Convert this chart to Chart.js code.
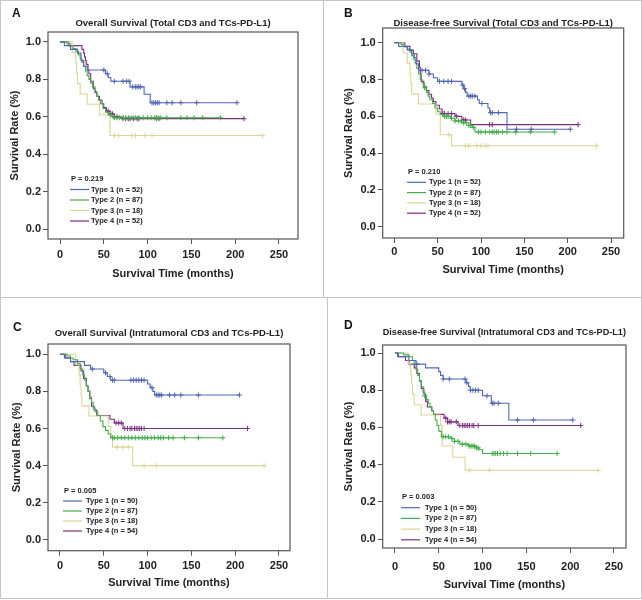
<!DOCTYPE html>
<html>
<head>
<meta charset="utf-8">
<script src="https://cdn.jsdelivr.net/npm/chart.js@4.4.1/dist/chart.umd.min.js"></script>
<style>
  body { margin: 0; background: #fff; }
  #wrap { position: relative; width: 642px; height: 600px; overflow: hidden; }
  #wrap canvas { position: absolute; }
  .rule { position: absolute; background: #c6c6c6; }
</style>
</head>
<body>
<div id="wrap">
  <div class="rule" style="left:0;top:0;width:1px;height:599px"></div>
  <div class="rule" style="left:641px;top:0;width:1px;height:599px"></div>
  <div class="rule" style="left:0;top:0;width:642px;height:1px"></div>
  <div class="rule" style="left:0;top:598px;width:642px;height:1px"></div>
  <div class="rule" style="left:0;top:297px;width:642px;height:1px"></div>
  <div class="rule" style="left:323px;top:0;width:1px;height:297px"></div>
  <div class="rule" style="left:327px;top:298px;width:1px;height:300px"></div>
  <canvas id="panelA" width="321" height="297" style="left:0;top:0"></canvas>
  <canvas id="panelB" width="321" height="297" style="left:321px;top:0"></canvas>
  <canvas id="panelC" width="321" height="297" style="left:0;top:300px"></canvas>
  <canvas id="panelD" width="321" height="297" style="left:321px;top:300px"></canvas>
</div>
<script>
/* global document, Chart */

// Kaplan-Meier curves: [months, survival after the drop]
// and the censoring times (the little + marks)

// A: Overall survival, total CD3 and TCs-PD-L1
const aType1Drops = [[5,0.98],[12,0.96],[20,0.94],[24,0.90],[27,0.87],[31,0.85],[52,0.83],[55,0.81],[58,0.79],[80,0.76],[96,0.72],[103,0.675]];
const aType1Censor = [50,54,62,72,76,79,83,86,88,90,92,105,107,109,111,113,122,128,138,156,202];
const aType2Drops = [[8,0.99],[12,0.977],[15,0.965],[18,0.95],[21,0.93],[23,0.91],[25,0.89],[27,0.87],[29,0.845],[31,0.82],[33,0.80],[35,0.78],[37,0.76],[40,0.735],[42,0.71],[44,0.69],[46,0.67],[49,0.645],[52,0.625],[55,0.61],[60,0.595]];
const aType2Censor = [58,62,65,68,72,75,78,82,86,90,95,100,104,108,110,112,115,122,138,145,153,163,183];
const aType3Drops = [[14,0.944],[18,0.889],[19,0.833],[20,0.778],[23,0.722],[31,0.667],[45,0.611],[57,0.5]];
const aType3Censor = [62,67,82,86,97,105,231];
const aType4Drops = [[10,0.98],[25,0.96],[27,0.94],[28,0.92],[29,0.90],[30,0.88],[32,0.85],[33,0.83],[35,0.79],[38,0.75],[40,0.73],[42,0.71],[45,0.69],[48,0.67],[50,0.65],[53,0.63],[57,0.615],[62,0.60],[70,0.59]];
const aType4Censor = [55,58,60,62,65,72,75,78,80,84,88,90,110,113,210];

// B: Disease-free survival, total CD3 and TCs-PD-L1
const bType1Drops = [[5,0.98],[15,0.96],[20,0.94],[23,0.92],[25,0.885],[28,0.85],[40,0.83],[45,0.81],[50,0.79],[78,0.77],[80,0.75],[82,0.73],[84,0.71],[96,0.69],[98,0.67],[108,0.645],[110,0.62],[130,0.53]];
const bType1Censor = [32,36,40,52,57,62,66,79,81,86,88,90,93,101,111,113,120,141,158,203];
const bType2Drops = [[8,0.99],[12,0.977],[15,0.965],[18,0.95],[20,0.93],[22,0.91],[24,0.89],[26,0.86],[28,0.83],[30,0.80],[32,0.78],[35,0.755],[37,0.73],[39,0.71],[41,0.69],[44,0.67],[47,0.645],[50,0.625],[53,0.61],[56,0.60],[65,0.59],[70,0.575],[78,0.565],[86,0.55],[90,0.54],[93,0.515]];
const bType2Censor = [35,58,60,62,66,70,74,77,80,83,86,88,91,97,100,105,110,113,115,118,120,125,130,140,157,185];
const bType3Drops = [[10,0.944],[15,0.889],[18,0.833],[19,0.778],[20,0.722],[28,0.667],[48,0.611],[53,0.5],[66,0.44]];
const bType3Censor = [63,82,86,95,100,105,108,233];
const bType4Drops = [[12,0.98],[18,0.96],[22,0.94],[26,0.90],[29,0.865],[30,0.83],[31,0.79],[34,0.76],[37,0.74],[40,0.72],[43,0.70],[45,0.68],[48,0.66],[52,0.64],[55,0.615],[70,0.60],[78,0.58],[88,0.555]];
const bType4Censor = [56,58,62,66,72,80,82,110,113,212];

// C: Overall survival, intratumoral CD3 and TCs-PD-L1
const cType1Drops = [[5,0.98],[12,0.96],[28,0.94],[35,0.92],[50,0.90],[54,0.88],[58,0.86],[100,0.84],[103,0.82],[106,0.80],[108,0.78]];
const cType1Censor = [37,52,57,60,62,81,84,87,90,93,96,105,110,112,114,116,125,131,138,158,205];
const cType2Drops = [[8,0.99],[12,0.98],[15,0.97],[20,0.95],[23,0.92],[26,0.89],[28,0.86],[30,0.83],[32,0.80],[34,0.77],[36,0.74],[38,0.71],[40,0.69],[43,0.67],[46,0.64],[49,0.61],[52,0.59],[55,0.57],[58,0.55]];
const cType2Censor = [60,62,66,70,74,78,82,86,90,94,97,100,104,108,112,115,118,124,129,142,158,186];
const cType3Drops = [[18,0.944],[22,0.889],[23,0.833],[24,0.778],[25,0.722],[33,0.667],[55,0.611],[58,0.556],[60,0.5],[83,0.40]];
const cType3Censor = [65,72,78,96,110,233];
const cType4Drops = [[6,0.98],[12,0.96],[16,0.94],[24,0.91],[27,0.87],[30,0.83],[32,0.80],[34,0.76],[36,0.72],[39,0.70],[42,0.67],[57,0.65],[62,0.63],[72,0.60]];
const cType4Censor = [64,67,70,74,77,80,82,85,87,89,91,93,96,214];

// D: Disease-free survival, intratumoral CD3 and TCs-PD-L1
const dType1Drops = [[3,0.98],[16,0.96],[24,0.94],[35,0.92],[50,0.90],[52,0.88],[55,0.86],[81,0.84],[84,0.82],[86,0.80],[100,0.77],[110,0.73],[130,0.64]];
const dType1Censor = [25,55,62,80,82,86,89,92,95,105,111,113,118,140,158,203];
const dType2Drops = [[10,0.99],[16,0.98],[20,0.96],[22,0.94],[24,0.91],[26,0.88],[28,0.85],[30,0.82],[32,0.79],[34,0.77],[36,0.75],[38,0.73],[40,0.71],[42,0.69],[44,0.67],[46,0.64],[48,0.61],[50,0.58],[53,0.55],[64,0.54],[68,0.525],[74,0.51],[84,0.50],[93,0.49],[96,0.48],[100,0.46]];
const dType2Censor = [34,55,58,61,65,68,72,77,81,85,87,89,91,93,95,111,113,115,117,120,124,128,140,155,185];
const dType3Drops = [[15,0.944],[18,0.889],[19,0.833],[20,0.778],[22,0.722],[30,0.667],[52,0.611],[54,0.5],[66,0.44],[80,0.37]];
const dType3Censor = [85,108,232];
const dType4Drops = [[4,0.98],[12,0.96],[16,0.94],[22,0.92],[25,0.89],[28,0.85],[30,0.81],[33,0.78],[35,0.74],[37,0.71],[42,0.69],[44,0.67],[56,0.65],[60,0.63],[72,0.61]];
const dType4Censor = [58,60,62,64,70,74,77,79,81,83,85,88,90,95,212];

// Legend texts
const totalLabels = ["Type 1 (n = 52)", "Type 2 (n = 87)", "Type 3 (n = 18)", "Type 4 (n = 52)"];
const intraLabels = ["Type 1 (n = 50)", "Type 2 (n = 87)", "Type 3 (n = 18)", "Type 4 (n = 54)"];
const pValues = ["P = 0.219", "P = 0.210", "P = 0.005", "P = 0.003"];

// Axis ticks
const xTickStep = 50;
const yTickStep = 0.2;

Chart.defaults.font.family = "'Liberation Sans', Arial, sans-serif";
Chart.defaults.color = "#222";

const typeColors = ["#5066b2", "#43ad4b", "#ddd497", "#7d2f7f"];
const boxColor = "#555";
const bold11 = {size: 11, weight: "bold"};

// Turn drops + censor times into step-curve points
function kmPoints(drops, censor) {
  const level = t => {
    let s = 1;
    drops.forEach(([dt, ds]) => { if (dt <= t) s = ds; });
    return s;
  };
  const pts = [{x: 0, y: 1, c: false, k: 0}];
  drops.forEach(([t, s]) => pts.push({x: t, y: s, c: false, k: 0}));
  censor.forEach(t => pts.push({x: t, y: level(t), c: true, k: 1}));
  pts.sort((a, b) => a.x - b.x || a.k - b.k);
  return pts;
}

// Frame round the plot area
const frameBox = {
  id: "frameBox",
  afterDraw(chart) {
    const {ctx, chartArea: a} = chart;
    ctx.save();
    ctx.strokeStyle = boxColor;
    ctx.lineWidth = 1.2;
    ctx.strokeRect(a.left, a.top, a.right - a.left, a.bottom - a.top);
    ctx.restore();
  }
};

// Panel letter and the in-plot legend
const panelDecor = {
  id: "panelDecor",
  afterDraw(chart, args, o) {
    const {ctx} = chart;
    ctx.save();
    ctx.fillStyle = "#111";
    ctx.textBaseline = "middle";
    ctx.font = "bold 12px 'Liberation Sans', Arial, sans-serif";
    ctx.fillText(o.letter, o.letterX, o.letterY);

    ctx.font = "bold 7.5px 'Liberation Sans', Arial, sans-serif";
    ctx.fillStyle = "#222";
    ctx.fillText(o.pText, o.x + 1, o.y);
    chart.data.datasets.forEach((ds, i) => {
      const y = o.y + o.rowGap * (i + 1);
      ctx.strokeStyle = ds.borderColor;
      ctx.lineWidth = 1.2;
      ctx.beginPath();
      ctx.moveTo(o.x, y);
      ctx.lineTo(o.x + 19, y);
      ctx.stroke();
      ctx.fillText(ds.label, o.x + o.textGap, y);
    });
    ctx.restore();
  }
};

function makePanel(id, p) {
  const el = document.getElementById(id);
  const W = el.width, H = el.height;
  const titleLH = 11.4;
  const xAxisH = p.xTitleY + 10 - p.B;

  new Chart(el, {
    type: "line",
    data: {
      datasets: p.series.map((s, i) => ({
        label: p.labels[i],
        data: kmPoints(s[0], s[1]),
        borderColor: typeColors[i],
        backgroundColor: typeColors[i],
        borderWidth: 1.1,
        stepped: true,
        fill: false,
        pointStyle: "cross",
        pointRadius: c => (c.raw && c.raw.c ? 2.6 : 0),
        pointBorderWidth: 1,
        pointBorderColor: typeColors[i],
        pointHoverRadius: 0
      }))
    },
    options: {
      responsive: false,
      animation: false,
      events: [],
      layout: {padding: {left: 0, top: 0, right: W - p.R, bottom: H - p.B - xAxisH}},
      plugins: {
        legend: {display: false},
        tooltip: {enabled: false},
        title: {
          display: true,
          fullSize: false,
          text: p.title,
          color: "#222",
          font: {size: 9.5, weight: "bold"},
          padding: {top: p.titleY - titleLH / 2, bottom: p.T - p.titleY - titleLH / 2}
        },
        panelDecor: p.decor
      },
      scales: {
        x: {
          type: "linear",
          min: p.xMin,
          max: p.xMax,
          border: {display: false},
          grid: {drawOnChartArea: false, drawTicks: true, tickLength: 5, color: boxColor},
          ticks: {stepSize: xTickStep, includeBounds: false, font: bold11, color: "#222", padding: p.xTickPad, maxRotation: 0},
          title: {display: true, text: "Survival Time (months)", font: bold11, color: "#222", padding: {top: 0, bottom: 3.4}},
          afterFit: s => { s.height = xAxisH; }
        },
        y: {
          type: "linear",
          min: p.yMin,
          max: p.yMax,
          border: {display: false},
          grid: {drawOnChartArea: false, drawTicks: true, tickLength: 5, color: boxColor},
          ticks: {stepSize: yTickStep, includeBounds: false, font: bold11, color: "#222", padding: 2,
            callback: v => v.toFixed(1)},
          title: {display: true, text: "Survival Rate (%)", font: bold11, color: "#222", padding: {top: p.yTitleX - 6.6, bottom: 0}},
          afterFit: s => { s.width = p.L; }
        }
      }
    },
    plugins: [frameBox, panelDecor]
  });
}

makePanel("panelA", {
  title: "Overall Survival (Total CD3 and TCs-PD-L1)",
  labels: totalLabels,
  series: [[aType1Drops, aType1Censor], [aType2Drops, aType2Censor], [aType3Drops, aType3Censor], [aType4Drops, aType4Censor]],
  L: 48, T: 32, R: 298, B: 239,
  xMin: -13.7, xMax: 271.7, yMin: -0.053, yMax: 1.053,
  titleY: 23, xTitleY: 274, xTickPad: 4, yTitleX: 15,
  decor: {letter: "A", letterX: 12, letterY: 14, pText: pValues[0], x: 70, y: 179, rowGap: 10.5, textGap: 21}
});

makePanel("panelB", {
  title: "Disease-free Survival (Total CD3 and TCs-PD-L1)",
  labels: totalLabels,
  series: [[bType1Drops, bType1Censor], [bType2Drops, bType2Censor], [bType3Drops, bType3Censor], [bType4Drops, bType4Censor]],
  L: 61.7, T: 28, R: 302.7, B: 238,
  xMin: -13.4, xMax: 264.6, yMin: -0.061, yMax: 1.080,
  titleY: 23, xTitleY: 270, xTickPad: 2, yTitleX: 28,
  decor: {letter: "B", letterX: 23, letterY: 14, pText: pValues[1], x: 86, y: 172, rowGap: 10.3, textGap: 22}
});

makePanel("panelC", {
  title: "Overall Survival (Intratumoral CD3 and TCs-PD-L1)",
  labels: intraLabels,
  series: [[cType1Drops, cType1Censor], [cType2Drops, cType2Censor], [cType3Drops, cType3Censor], [cType4Drops, cType4Censor]],
  L: 48, T: 44, R: 290, B: 250.7,
  xMin: -13.7, xMax: 262.6, yMin: -0.058, yMax: 1.055,
  titleY: 33, xTitleY: 283.3, xTickPad: 4, yTitleX: 17,
  decor: {letter: "C", letterX: 13, letterY: 27.5, pText: pValues[2], x: 63, y: 191, rowGap: 10, textGap: 23}
});

makePanel("panelD", {
  title: "Disease-free Survival (Intratumoral CD3 and TCs-PD-L1)",
  labels: intraLabels,
  series: [[dType1Drops, dType1Censor], [dType2Drops, dType2Censor], [dType3Drops, dType3Censor], [dType4Drops, dType4Censor]],
  L: 61.7, T: 45, R: 305, B: 248,
  xMin: -14, xMax: 263.7, yMin: -0.048, yMax: 1.043,
  titleY: 32, xTitleY: 285, xTickPad: 7, yTitleX: 28,
  decor: {letter: "D", letterX: 23, letterY: 26, pText: pValues[3], x: 80, y: 197, rowGap: 10.7, textGap: 24}
});
</script>
</body>
</html>
